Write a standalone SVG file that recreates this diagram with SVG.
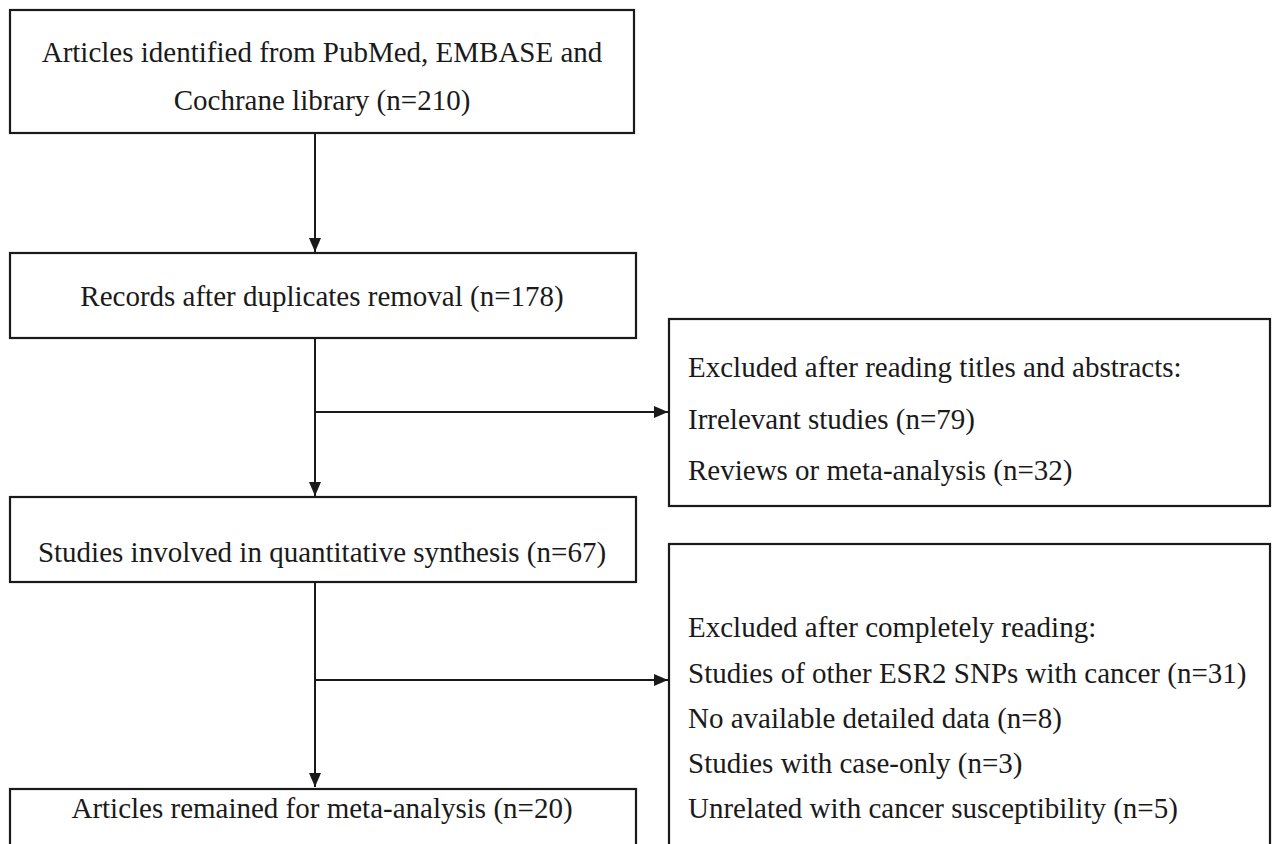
<svg xmlns="http://www.w3.org/2000/svg" width="1272" height="844" viewBox="0 0 1272 844">
<style>
.box{fill:#fff;stroke:#1a1a1a;stroke-width:2.2}
.t{font-family:"Liberation Serif","Times New Roman",serif;font-size:29px;fill:#1a1a1a}
.c{text-anchor:middle}
.ln{fill:none;stroke:#1a1a1a;stroke-width:2}
</style>
<defs>
<marker id="ah" viewBox="0 0 14 12" refX="14" refY="6" markerWidth="14" markerHeight="12" markerUnits="userSpaceOnUse" orient="auto">
<path d="M0,0 L14,6 L0,12 Z" fill="#1a1a1a"/>
</marker>
</defs>
<rect width="1272" height="844" fill="#fff"/>
<g id="connectors">
<line class="ln" x1="315" y1="133" x2="315" y2="252" marker-end="url(#ah)"/>
<line class="ln" x1="315" y1="338" x2="315" y2="496" marker-end="url(#ah)"/>
<line class="ln" x1="315" y1="412" x2="668" y2="412" marker-end="url(#ah)"/>
<line class="ln" x1="315" y1="582" x2="315" y2="787" marker-end="url(#ah)"/>
<line class="ln" x1="315" y1="680" x2="668" y2="680" marker-end="url(#ah)"/>
</g>
<g id="n1">
<rect class="box" x="10" y="10" width="624" height="123"/>
<text class="t c" x="322" y="62">Articles identified from PubMed, EMBASE and</text>
<text class="t c" x="322" y="110">Cochrane library (n=210)</text>
</g>
<g id="n2">
<rect class="box" x="10" y="253" width="626" height="85"/>
<text class="t c" x="322" y="306">Records after duplicates removal (n=178)</text>
</g>
<g id="n3">
<rect class="box" x="10" y="497" width="626" height="85"/>
<text class="t c" x="322" y="562">Studies involved in quantitative synthesis (n=67)</text>
</g>
<g id="n4">
<rect class="box" x="669" y="319" width="601" height="187"/>
<text class="t" x="688" y="377">Excluded after reading titles and abstracts:</text>
<text class="t" x="688" y="429">Irrelevant studies (n=79)</text>
<text class="t" x="688" y="480">Reviews or meta-analysis (n=32)</text>
</g>
<g id="n5">
<rect class="box" x="669" y="544" width="601" height="320"/>
<text class="t" x="688" y="637">Excluded after completely reading:</text>
<text class="t" x="688" y="683">Studies of other ESR2 SNPs with cancer (n=31)</text>
<text class="t" x="688" y="728">No available detailed data (n=8)</text>
<text class="t" x="688" y="773">Studies with case-only (n=3)</text>
<text class="t" x="688" y="818">Unrelated with cancer susceptibility (n=5)</text>
</g>
<g id="n6">
<rect class="box" x="10" y="789" width="626" height="80"/>
<text class="t c" x="322" y="818">Articles remained for meta-analysis (n=20)</text>
</g>
</svg>
